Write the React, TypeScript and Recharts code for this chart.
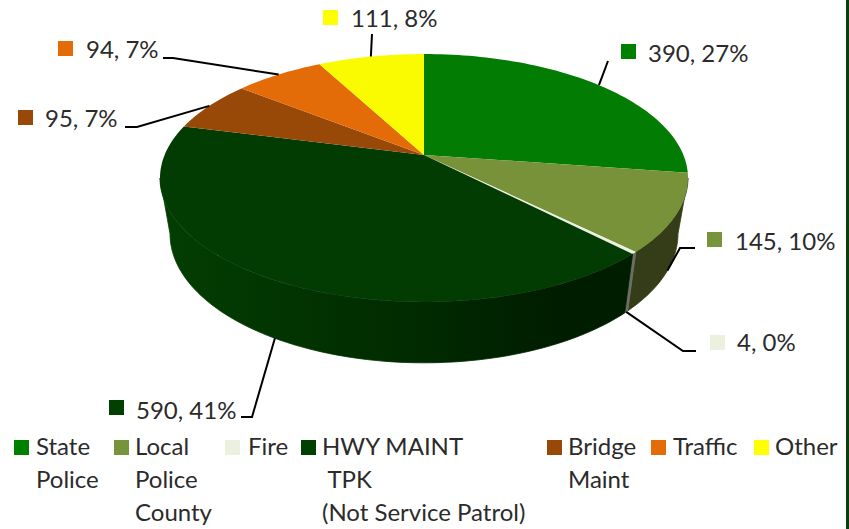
import { PieChart, Pie, Legend } from "recharts";

const CATEGORIES = [
  "State Police",
  "Local Police County",
  "Fire",
  "HWY MAINT TPK (Not Service Patrol)",
  "Bridge Maint",
  "Traffic",
  "Other",
];
const VALUES = [390, 145, 4, 590, 95, 94, 111];
const TOP_COLORS = ["#027c02", "#78923a", "#ebf0e1", "#023c02", "#984807", "#e36c09", "#fafa00"];
const KEY_COLORS = ["#008000", "#77933c", "#ebf1de", "#024002", "#984807", "#e36c09", "#ffff00"];
const WALL_COLORS = ["#027c02", "#343d18", "#6b6f66", "url(#hwyWall)", "#984807", "#e36c09", "#fafa00"];

// elbow and end of each leader line, then the key square and the text start
const LEADERS = [
  { elbow: [608, 61], end: [608, 61], key: [621, 44], textX: 648, base: 62, front: false },
  { elbow: [680, 248], end: [695, 248], key: [707, 232], textX: 735, base: 250, front: true },
  { elbow: [683, 351], end: [696, 351], key: [710, 335], textX: 737, base: 351, front: true },
  { elbow: [252, 417], end: [241, 417], key: [109, 400], textX: 136, base: 419, front: true },
  { elbow: [137, 127], end: [125, 127], key: [18, 110], textX: 45, base: 127, front: false },
  { elbow: [173, 58], end: [163, 58], key: [58, 41], textX: 86, base: 58, front: false },
  { elbow: [372, 34], end: [372, 34], key: [323, 10], textX: 351, base: 27, front: false },
];

const LEGEND_LINES = [
  ["State", "Police"],
  ["Local", "Police", "County"],
  ["Fire"],
  ["HWY MAINT", " TPK", "(Not Service Patrol)"],
  ["Bridge", "Maint"],
  ["Traffic"],
  ["Other"],
];
const LEGEND_KEY_X = [14, 114, 225, 301, 547, 651, 754];
const LEGEND_TEXT_X = [36, 135, 248, 322, 568, 673, 775];

const FONT = "Lato, sans-serif";
const FONT_SIZE = 24;
const TEXT_COLOR = "#2b2b2b";

// perspective of the tilted disc: nearer edge is drawn larger
const PERSPECTIVE = 0.1855;
const Y_RATIO = 0.4534;
const WALL_X = 0.962;
const WALL_Y = 1.04;
const WALL_DROP = 55;
// clockwise angle from 12 o'clock where the rim is widest on the right
const SIDE_ANGLE = (Math.acos(-PERSPECTIVE) * 180) / Math.PI;

const total = VALUES.reduce((a, b) => a + b, 0);
const chartData = CATEGORIES.map((name, i) => ({ name, value: VALUES[i], fill: KEY_COLORS[i] }));

function rimPoint(cx: number, cy: number, r: number, clock: number) {
  const rad = (clock * Math.PI) / 180;
  const u = Math.sin(rad);
  const v = -Math.cos(rad);
  const w = 1 - PERSPECTIVE * v;
  const a = r * Math.sqrt(1 - PERSPECTIVE * PERSPECTIVE);
  return [cx + (a * u) / w, cy + (r * Y_RATIO * v) / w];
}

function wallPoint(cx: number, cy: number, r: number, clock: number) {
  const [x, y] = rimPoint(cx, cy, r, clock);
  return [cx + (x - cx) * WALL_X, cy + WALL_DROP + (y - cy) * WALL_Y];
}

function arcPoints(cx: number, cy: number, r: number, from: number, to: number, fn: typeof rimPoint) {
  const pts: number[][] = [];
  const steps = Math.max(2, Math.ceil(Math.abs(to - from) / 1.5));
  for (let i = 0; i <= steps; i++) {
    pts.push(fn(cx, cy, r, from + ((to - from) * i) / steps));
  }
  return pts;
}

const toPath = (pts: number[][]) =>
  pts.map((p, i) => `${i ? "L" : "M"}${p[0].toFixed(2)},${p[1].toFixed(2)}`).join(" ");

function Slice3D(props: any) {
  const { cx, cy, outerRadius, startAngle, endAngle, index } = props;
  const idx = index ?? CATEGORIES.indexOf(props.name);
  const from = 90 - startAngle;
  const to = 90 - endAngle;
  const wallFrom = Math.max(from, SIDE_ANGLE);
  const wallTo = Math.min(to, 360 - SIDE_ANGLE);
  const top = arcPoints(cx, cy, outerRadius, from, to, rimPoint);
  return (
    <g>
      <defs>
        <linearGradient id="hwyWall" gradientUnits="userSpaceOnUse" x1="170" y1="0" x2="628" y2="0">
          <stop offset="0" stopColor="#033d02" />
          <stop offset="0.5" stopColor="#012c00" />
          <stop offset="0.85" stopColor="#001d00" />
        </linearGradient>
      </defs>
      {wallTo > wallFrom && (
        <path
          d={
            toPath([
              ...arcPoints(cx, cy, outerRadius, wallFrom, wallTo, rimPoint),
              ...arcPoints(cx, cy, outerRadius, wallTo, wallFrom, wallPoint),
            ]) + " Z"
          }
          fill={WALL_COLORS[idx]}
          stroke={WALL_COLORS[idx]}
          strokeWidth={0.8}
        />
      )}
      <path d={`M${cx},${cy} ${toPath(top).replace(/^M/, "L")} Z`} fill={TOP_COLORS[idx]} />
    </g>
  );
}

function SliceLabel(props: any) {
  const { cx, cy, outerRadius, midAngle, index, value } = props;
  const layout = LEADERS[index];
  const start = (layout.front ? wallPoint : rimPoint)(cx, cy, outerRadius, 90 - midAngle);
  const pct = Math.round((value / total) * 100);
  return (
    <g>
      <polyline
        points={`${start[0]},${start[1]} ${layout.elbow[0]},${layout.elbow[1]} ${layout.end[0]},${layout.end[1]}`}
        fill="none"
        stroke="#000"
        strokeWidth={2}
      />
      <rect x={layout.key[0]} y={layout.key[1]} width={15} height={15} fill={KEY_COLORS[index]} />
      <text x={layout.textX} y={layout.base} fontFamily={FONT} fontSize={FONT_SIZE} fill={TEXT_COLOR}>
        {`${value}, ${pct}%`}
      </text>
    </g>
  );
}

function LegendBlock() {
  return (
    <div style={{ position: "relative", width: 849, height: 97, fontFamily: FONT, fontSize: FONT_SIZE, color: TEXT_COLOR }}>
      {LEGEND_LINES.map((lines, i) => (
        <div key={CATEGORIES[i]}>
          <div
            style={{
              position: "absolute",
              left: LEGEND_KEY_X[i],
              top: 8,
              width: 15,
              height: 15,
              background: KEY_COLORS[i],
            }}
          />
          {lines.map((line, j) => (
            <div
              key={j}
              style={{
                position: "absolute",
                left: LEGEND_TEXT_X[i],
                top: j * 33 - 2,
                lineHeight: "32px",
                whiteSpace: "pre",
              }}
            >
              {line}
            </div>
          ))}
        </div>
      ))}
    </div>
  );
}

export default function App() {
  return (
    <div style={{ position: "absolute", left: 0, top: 0, width: 849, height: 529, background: "#fff", overflow: "hidden" }}>
      <PieChart width={849} height={529} margin={{ top: 0, right: 0, bottom: 0, left: 0 }}>
        <Pie
          data={chartData}
          dataKey="value"
          nameKey="name"
          cx={424}
          cy={155}
          outerRadius={264}
          startAngle={90}
          endAngle={-270}
          stroke="none"
          shape={Slice3D}
          label={SliceLabel}
          labelLine={false}
          isAnimationActive={false}
        />
        <Legend
          content={<LegendBlock />}
          wrapperStyle={{ left: 0, top: 432, width: 849, height: 97 }}
        />
      </PieChart>
      <div style={{ position: "absolute", left: 846, top: 0, width: 3, height: 529, background: "#0b3d0b" }} />
    </div>
  );
}
